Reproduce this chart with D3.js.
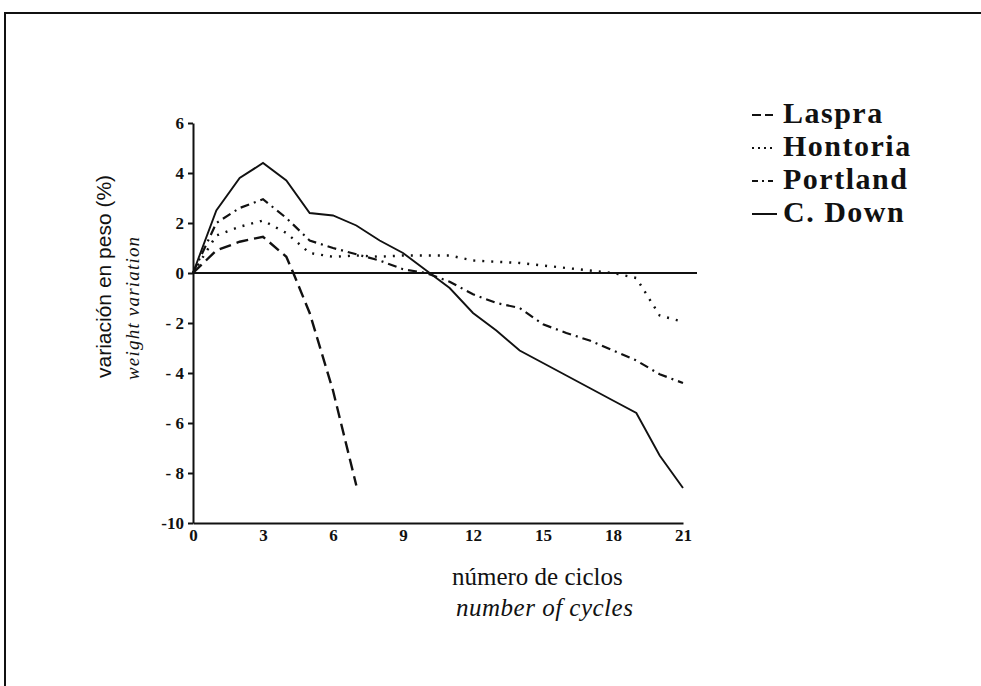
<!DOCTYPE html>
<html>
<head>
<meta charset="utf-8">
<script src="https://cdn.jsdelivr.net/npm/d3@7"></script>
<style>
  body { margin: 0; background: #fff; }
  .tick text { font-family: "Liberation Serif", "Times New Roman", serif; font-weight: bold; font-size: 17px; fill: #111; }
</style>
</head>
<body>
<div id="chart"></div>
<script>
// cycles and weight variation (%)
const cycles = d3.range(0, 22)
const laspraCycles = [0, 1, 2, 3, 4, 4.3, 5, 6, 7]
const laspra = [0, 0.9, 1.25, 1.45, 0.65, 0, -1.6, -4.7, -8.5]
const hontoria = [0, 1.5, 1.85, 2.1, 1.6, 0.8, 0.65, 0.7, 0.65, 0.7, 0.7, 0.7, 0.5, 0.45, 0.4, 0.3, 0.2, 0.1, 0.0, -0.2, -1.7, -1.95]
const portland = [0, 2.0, 2.6, 2.95, 2.2, 1.3, 1.0, 0.75, 0.5, 0.15, 0.0, -0.35, -0.85, -1.2, -1.4, -2.05, -2.4, -2.7, -3.1, -3.5, -4.05, -4.4]
const cdown = [0, 2.5, 3.8, 4.4, 3.7, 2.4, 2.3, 1.9, 1.3, 0.8, 0.1, -0.6, -1.6, -2.3, -3.1, -3.6, -4.1, -4.6, -5.1, -5.6, -7.3, -8.6]
const xTicks = [0, 3, 6, 9, 12, 15, 18, 21]
const yTicks = [-10, -8, -6, -4, -2, 0, 2, 4, 6]
const seriesNames = ["Laspra", "Hontoria", "Portland", "C. Down"]

const W = 981, H = 686
const margin = { top: 123, left: 193 },
    width = 490,
    height = 400

const svg = d3.select("#chart")
    .append("svg")
    .attr("width", W)
    .attr("height", H)

// outer frame (open to the right and bottom, as scanned)
svg.append("path")
    .attr("d", `M5,${H} L5,13 L${W},13`)
    .attr("fill", "none")
    .attr("stroke", "#111")
    .attr("stroke-width", 2)

const g = svg.append("g")
    .attr("transform", `translate(${margin.left}, ${margin.top})`)

const x = d3.scaleLinear().domain([0, 21]).range([0, width])
const y = d3.scaleLinear().domain([-10, 6]).range([height, 0])

// axes
const yAxis = g.append("g")
    .call(d3.axisLeft(y)
        .tickValues(yTicks)
        .tickSize(5)
        .tickSizeOuter(0)
        .tickFormat(d => (d < 0 && d > -10) ? "- " + (-d) : d))
yAxis.selectAll("path, line").attr("stroke", "#111").attr("stroke-width", 2)
yAxis.selectAll("text").attr("x", -9)

const xAxis = g.append("g")
    .attr("transform", `translate(0, ${height})`)
    .call(d3.axisBottom(x)
        .tickValues(xTicks)
        .tickSize(0)
        .tickSizeOuter(0))
xAxis.select(".domain").attr("stroke", "#111").attr("stroke-width", 2)
xAxis.selectAll("text").attr("dy", "0.9em")

// zero line
g.append("line")
    .attr("x1", x(0))
    .attr("x2", x(21) + 14)
    .attr("y1", y(0))
    .attr("y2", y(0))
    .attr("stroke", "#111")
    .attr("stroke-width", 2)

const styles = [
    { dash: "12,6", width: 2.4 },
    { dash: "2,7", width: 2.4 },
    { dash: "9,5,2,5", width: 2.2 },
    { dash: null, width: 1.9 }
]

const series = [
    laspraCycles.map((c, i) => [c, laspra[i]]),
    cycles.map((c, i) => [c, hontoria[i]]),
    cycles.map((c, i) => [c, portland[i]]),
    cycles.map((c, i) => [c, cdown[i]])
]

const line = d3.line()
    .x(d => x(d[0]))
    .y(d => y(d[1]))

g.selectAll(".series")
    .data(series)
    .join("path")
    .attr("class", "series")
    .attr("d", line)
    .attr("fill", "none")
    .attr("stroke", "#111")
    .attr("stroke-width", (d, i) => styles[i].width)
    .attr("stroke-dasharray", (d, i) => styles[i].dash)

// legend
const legend = svg.append("g")
    .attr("transform", "translate(752, 0)")

const rowY = [112, 145, 178, 211]
const samples = [
    { dash: "9,4", len: 21 },
    { dash: "2,4", len: 23 },
    { dash: "6,4,2,4", len: 21 },
    { dash: null, len: 25 }
]

seriesNames.forEach(function (name, i) {
    legend.append("line")
        .attr("x1", 0)
        .attr("x2", samples[i].len)
        .attr("y1", rowY[i] + 3)
        .attr("y2", rowY[i] + 3)
        .attr("stroke", "#111")
        .attr("stroke-width", 2)
        .attr("stroke-dasharray", samples[i].dash)
    legend.append("text")
        .attr("x", 31)
        .attr("y", rowY[i] + 11)
        .style("font-family", "'Liberation Serif', 'Times New Roman', serif")
        .style("font-weight", "bold")
        .style("font-size", "30px")
        .style("letter-spacing", "1.5px")
        .style("fill", "#111")
        .text(name)
})

// axis titles
svg.append("text")
    .attr("transform", "translate(111, 378) rotate(-90)")
    .style("font-family", "'Liberation Sans', Arial, sans-serif")
    .style("font-size", "21px")
    .style("fill", "#111")
    .text("variación en peso (%)")

svg.append("text")
    .attr("transform", "translate(139, 380) rotate(-90)")
    .style("font-family", "'Liberation Serif', 'Times New Roman', serif")
    .style("font-style", "italic")
    .style("font-size", "19px")
    .style("letter-spacing", "1.2px")
    .style("fill", "#111")
    .text("weight variation")

svg.append("text")
    .attr("x", 452)
    .attr("y", 585)
    .style("font-family", "'Liberation Serif', 'Times New Roman', serif")
    .style("font-size", "25px")
    .style("fill", "#111")
    .text("número de ciclos")

svg.append("text")
    .attr("x", 456)
    .attr("y", 616)
    .style("font-family", "'Liberation Serif', 'Times New Roman', serif")
    .style("font-style", "italic")
    .style("font-size", "25px")
    .style("letter-spacing", "0.5px")
    .style("fill", "#111")
    .text("number of cycles")
</script>
</body>
</html>
